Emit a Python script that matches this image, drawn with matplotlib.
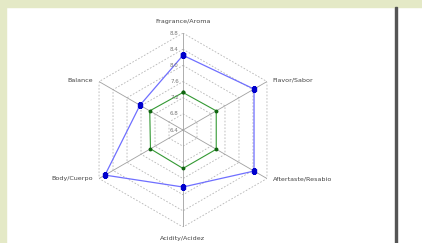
import numpy as np
import matplotlib
matplotlib.use("Agg")
import matplotlib.pyplot as plt
from matplotlib.patches import Rectangle

# categories and scores
labels = ["Fragrance/Aroma", "Flavor/Sabor", "Aftertaste/Resabio",
          "Acidity/Acidez", "Body/Cuerpo", "Balance"]
sample = [8.25, 8.43, 8.43, 7.81, 8.63, 7.63]
reference = [7.33, 7.35, 7.35, 7.35, 7.33, 7.35]
ticks = [6.4, 6.8, 7.2, 7.6, 8.0, 8.4, 8.8]

fig = plt.figure(figsize=(4.22, 2.43), dpi=100)
fig.patch.set_facecolor("white")

# page decorations: top/left band and divider
band = "#e4e9c6"
fig.patches.append(Rectangle((0, 0.971), 1, 0.029, transform=fig.transFigure,
                             color=band, zorder=0))
fig.patches.append(Rectangle((0, 0), 6 / 422, 1, transform=fig.transFigure,
                             color=band, zorder=0))
fig.patches.append(Rectangle((395 / 422, 0), 2 / 422, 0.971,
                             transform=fig.transFigure, color="#555555",
                             zorder=0))

ax = fig.add_axes([0.2038, 0.0658, 0.4597, 0.798], projection="polar")
ax.set_theta_offset(np.pi / 2)
ax.set_theta_direction(-1)
ax.set_ylim(ticks[0], ticks[-1])
ax.grid(False)
ax.spines["polar"].set_visible(False)
ax.set_xticks([])
ax.set_yticks([])
ax.patch.set_alpha(0)

n = len(labels)
ang = np.linspace(0, 2 * np.pi, n, endpoint=False)
ang_c = np.append(ang, ang[0])

# hexagonal grid
for t in ticks[1:]:
    ax.plot(ang_c, [t] * (n + 1), ls=(0, (2, 2)), c="#b5b5b5", lw=0.6)
for a in ang:
    ax.plot([a, a], [ticks[0], ticks[-1]], c="#a0a0a0", lw=0.6)

# tick labels along the top spoke
for t in ticks:
    ax.annotate("%.1f" % t, (0, t), xytext=(-3, 0), textcoords="offset points",
                ha="right", va="center", fontsize=4, color="#777777")

def closed(v):
    return list(v) + [v[0]]

ax.plot(ang_c, closed(reference), c="#339933", lw=0.8, marker="o", ms=1.8,
        mfc="#116611", mec="#116611")
ax.plot(ang_c, closed(sample), c="#6f6fff", lw=0.9, marker="s", ms=2.5,
        mfc="#0000cc", mec="#0000cc")

# category labels
align = [("center", "bottom"), ("left", "center"), ("left", "center"),
         ("center", "top"), ("right", "center"), ("right", "center")]
offs = [(0, 6.5), (4, 1), (4, 0), (0, -6.5), (-4, 0), (-4, 1)]
for a, lab, (ha, va), off in zip(ang, labels, align, offs):
    ax.annotate(lab, (a, ticks[-1]), xytext=off, textcoords="offset points",
                ha=ha, va=va, fontsize=4.6, color="#444444",
                annotation_clip=False)

fig.savefig("out.png", dpi=100)
